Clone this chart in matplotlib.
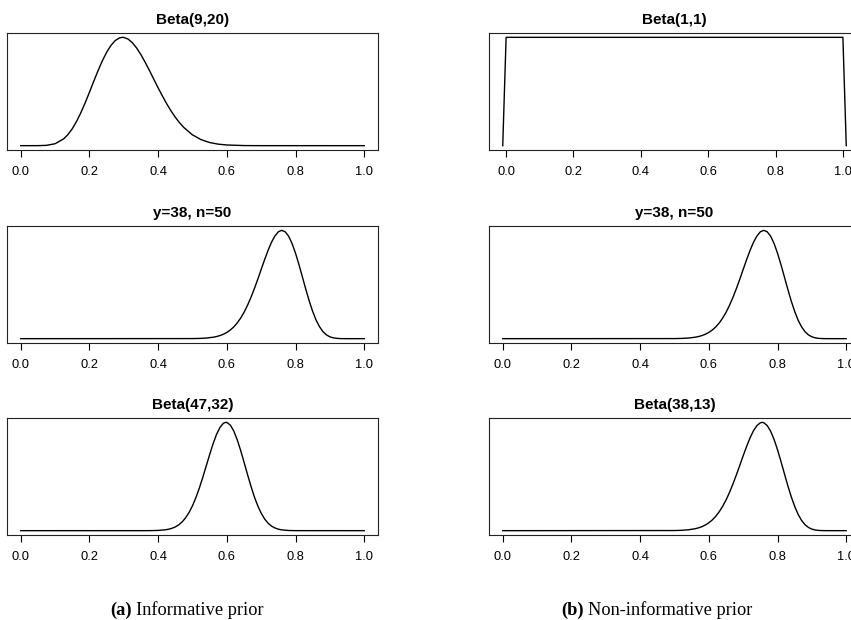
import matplotlib
matplotlib.use("Agg")
import matplotlib.pyplot as plt

prior_x = [0.0, 0.05, 0.075, 0.1, 0.125, 0.1375, 0.15, 0.1625, 0.175, 0.1875, 0.2, 0.2125,
           0.225, 0.2375, 0.25, 0.2625, 0.275, 0.2875, 0.2963, 0.3, 0.3125, 0.325, 0.3375,
           0.35, 0.3625, 0.375, 0.3875, 0.4, 0.4125, 0.425, 0.4375, 0.45, 0.4625, 0.475,
           0.5, 0.525, 0.55, 0.575, 0.6, 0.65, 0.7, 1.0]
prior_y = [0.0, 0.0002, 0.003, 0.018, 0.063, 0.103, 0.156, 0.224, 0.304, 0.395, 0.493, 0.594,
           0.692, 0.783, 0.862, 0.925, 0.970, 0.995, 1.0, 0.999, 0.984, 0.950, 0.901,
           0.839, 0.768, 0.692, 0.612, 0.533, 0.458, 0.386, 0.321, 0.262, 0.211, 0.167,
           0.0996, 0.0555, 0.0288, 0.0139, 0.0062, 0.0009, 0.0001, 0.0]

lik_x = [0.0, 0.5, 0.52, 0.54, 0.56, 0.57, 0.58, 0.59, 0.6, 0.61, 0.62, 0.63, 0.64, 0.65,
         0.66, 0.67, 0.68, 0.69, 0.7, 0.71, 0.72, 0.73, 0.74, 0.75, 0.76, 0.77, 0.78, 0.79,
         0.8, 0.81, 0.82, 0.83, 0.84, 0.85, 0.86, 0.87, 0.88, 0.89, 0.9, 0.91, 0.92, 0.93,
         0.94, 0.96, 1.0]
lik_y = [0.0, 0.0008, 0.0022, 0.0056, 0.0132, 0.0196, 0.0286, 0.041, 0.0577, 0.0797, 0.108,
         0.144, 0.189, 0.243, 0.307, 0.380, 0.461, 0.548, 0.640, 0.730, 0.815, 0.890, 0.948,
         0.987, 1.0, 0.986, 0.945, 0.877, 0.788, 0.682, 0.569, 0.454, 0.346, 0.250, 0.170,
         0.109, 0.064, 0.035, 0.017, 0.0073, 0.0027, 0.0008, 0.0002, 0.0, 0.0]

post_x = [0.0, 0.36, 0.38, 0.4, 0.42, 0.43, 0.44, 0.45, 0.46, 0.47, 0.48, 0.49, 0.5, 0.51,
          0.52, 0.53, 0.54, 0.55, 0.56, 0.57, 0.58, 0.59, 0.5974, 0.6, 0.61, 0.62, 0.63,
          0.64, 0.65, 0.66, 0.67, 0.68, 0.69, 0.7, 0.71, 0.72, 0.73, 0.74, 0.75, 0.76, 0.78,
          0.8, 1.0]
post_y = [0.0, 0.0001, 0.0006, 0.0023, 0.0075, 0.013, 0.0216, 0.0347, 0.054, 0.0813, 0.119,
          0.168, 0.230, 0.306, 0.394, 0.493, 0.598, 0.703, 0.803, 0.889, 0.953, 0.992, 1.0,
          0.999, 0.975, 0.921, 0.841, 0.742, 0.633, 0.520, 0.412, 0.313, 0.229, 0.161, 0.108,
          0.069, 0.042, 0.025, 0.0135, 0.007, 0.0016, 0.0003, 0.0]

flat_x = [-0.01, 0.0, 1.0, 1.01]
flat_y = [0.0, 1.0, 1.0, 0.0]

flatpost_x = [0.0, 0.5, 0.52, 0.54, 0.56, 0.57, 0.58, 0.59, 0.6, 0.61, 0.62, 0.63, 0.64,
              0.65, 0.66, 0.67, 0.68, 0.69, 0.7, 0.71, 0.72, 0.73, 0.74, 0.75, 0.755, 0.76,
              0.77, 0.78, 0.79, 0.8, 0.81, 0.82, 0.83, 0.84, 0.85, 0.86, 0.87, 0.88, 0.89,
              0.9, 0.91, 0.92, 0.93, 0.94, 0.96, 1.0]
flatpost_y = [0.0, 0.0012, 0.0033, 0.0079, 0.0178, 0.026, 0.0373, 0.0526, 0.0728, 0.099,
              0.132, 0.174, 0.224, 0.283, 0.352, 0.430, 0.514, 0.602, 0.692, 0.778, 0.857,
              0.923, 0.970, 0.996, 1.0, 0.996, 0.970, 0.917, 0.841, 0.746, 0.638, 0.525,
              0.414, 0.312, 0.2225, 0.150, 0.0945, 0.055, 0.0295, 0.014, 0.006, 0.0022,
              0.0007, 0.0002, 0.0, 0.0]

titles_a = ["Beta(9,20)", "y=38, n=50", "Beta(47,32)"]
titles_b = ["Beta(1,1)", "y=38, n=50", "Beta(38,13)"]
tick_vals = [0.0, 0.2, 0.4, 0.6, 0.8, 1.0]
tick_labels = ["0.0", "0.2", "0.4", "0.6", "0.8", "1.0"]

curves_a = [(prior_x, prior_y), (lik_x, lik_y), (post_x, post_y)]
curves_b = [(flat_x, flat_y), (lik_x, lik_y), (flatpost_x, flatpost_y)]

W, H = 851, 620
fig = plt.figure(figsize=(W / 100, H / 100), dpi=100)
plt.rcParams["font.family"] = ["Liberation Sans", "DejaVu Sans"]

box_tops = [33, 226, 418]
box_h = 117
col_left = [7, 489]
box_w = 371


def panel(left, top, xs, ys, title):
    ax = fig.add_axes([left / W, 1 - (top + box_h) / H, box_w / W, box_h / H])
    ax.plot(xs, ys, color="black", lw=1.0)
    ax.margins(x=0.04, y=0.04)
    ax.set_xticks(tick_vals)
    ax.set_xticklabels(tick_labels)
    ax.set_yticks([])
    ax.tick_params(axis="x", direction="out", length=5, width=0.8, pad=6.5,
                   labelsize=9.3, colors="black")
    for s in ax.spines.values():
        s.set_linewidth(0.8)
        s.set_color("#222222")
    ax.set_title(title, fontsize=11, fontweight="bold", pad=6.5)
    return ax


for top, (xs, ys), t in zip(box_tops, curves_a, titles_a):
    panel(col_left[0], top, xs, ys, t)
for top, (xs, ys), t in zip(box_tops, curves_b, titles_b):
    panel(col_left[1], top, xs, ys, t)

# sub-figure captions
cap_y = 1 - 610 / H
fig.canvas.draw()
r = fig.canvas.get_renderer()
for x0, lab, rest in [(110, "(a)", "Informative prior"), (561, "(b)", "Non-informative prior")]:
    t = fig.text(x0 / W, cap_y, lab, family=["Liberation Serif"], fontsize=13.2,
                 fontweight="bold", va="center", ha="left")
    bb = t.get_window_extent(renderer=r)
    fig.text((bb.x1 + 5) / W, cap_y, rest, family=["Liberation Serif"], fontsize=13.2,
             va="center", ha="left")

fig.savefig("out.png", dpi=100)
